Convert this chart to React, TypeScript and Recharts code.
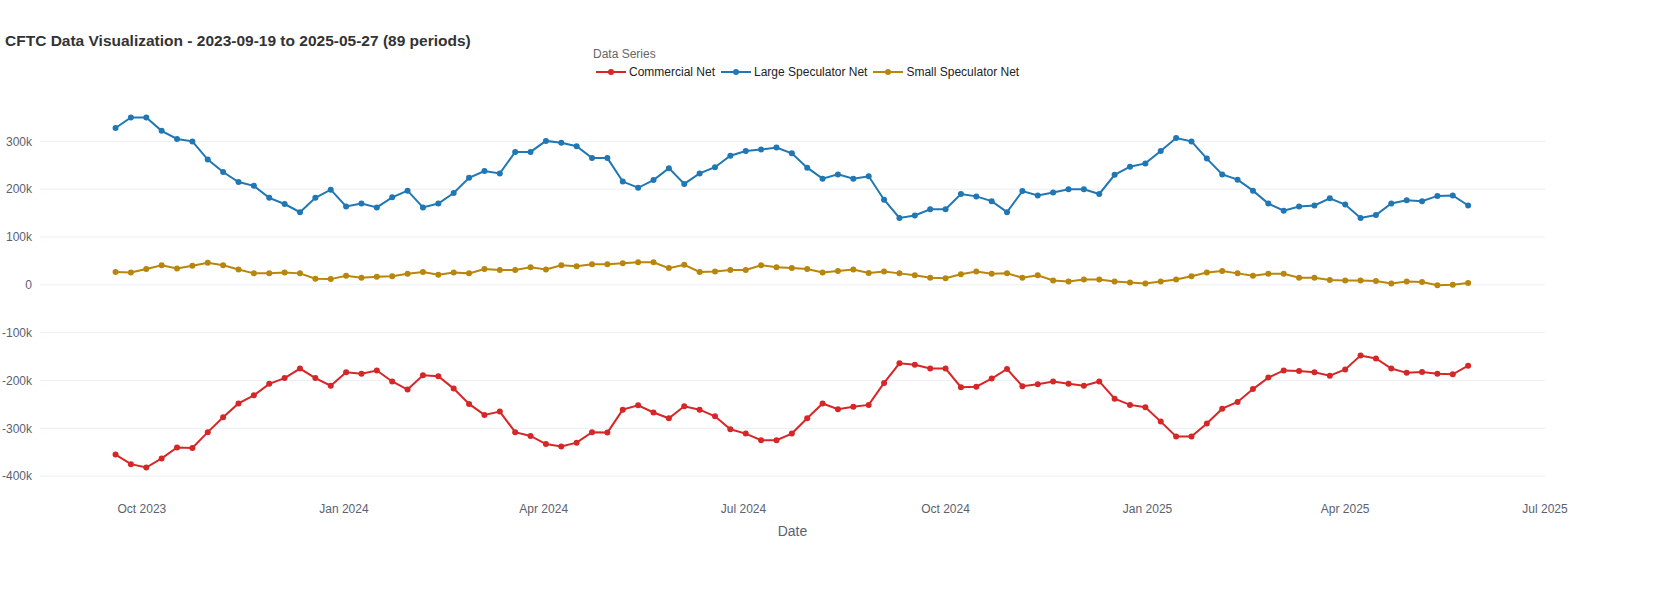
import React from "react";
import { LineChart, Line, XAxis, YAxis, CartesianGrid, Label } from "recharts";

const largeSpec = [328,350,350,322,305,300,262,236,215,207,182,169,152,182,199,164,170,162,183,197,162,170,192,224,238,233,278,278,301,297,290,265,265,216,203,219,244,211,233,246,270,280,283,287,275,245,222,231,222,227,178,140,145,158,158,190,185,175,152,196,187,193,200,200,190,230,247,254,280,307,300,264,231,220,197,170,155,164,166,181,168,140,146,170,177,175,186,187,166];
const commercial = [-355,-375,-382,-363,-340,-341,-308,-277,-248,-231,-207,-195,-175,-195,-211,-183,-186,-179,-202,-219,-189,-191,-217,-249,-272,-265,-308,-316,-333,-338,-330,-308,-309,-261,-252,-267,-279,-254,-261,-275,-302,-311,-325,-325,-311,-279,-248,-260,-255,-251,-205,-164,-167,-175,-175,-214,-213,-196,-176,-212,-208,-202,-207,-211,-202,-238,-251,-256,-286,-317,-317,-290,-259,-245,-218,-194,-179,-180,-183,-190,-177,-148,-154,-175,-184,-182,-186,-187,-169];
const smallSpec = [27,26,33,41,34,40,46,41,32,24,24,26,24,13,12,19,15,17,18,23,27,21,26,24,33,31,31,37,32,41,39,43,43,45,47,47,35,42,27,28,31,31,41,37,35,33,26,29,32,25,28,24,20,15,14,22,28,23,24,15,20,9,7,11,11,7,5,3,7,11,18,26,29,24,19,23,23,15,15,10,9,9,8,3,7,6,-1,0,4];
const startDate = Date.UTC(2023, 8, 19);
const WEEK = 7 * 24 * 3600 * 1000;
const xTickDates = [[2023,9],[2024,0],[2024,3],[2024,6],[2024,9],[2025,0],[2025,3],[2025,6]];
const monthNames = ["Jan","Feb","Mar","Apr","May","Jun","Jul","Aug","Sep","Oct","Nov","Dec"];
const yTicks = [-400000,-300000,-200000,-100000,0,100000,200000,300000];

const data = largeSpec.map((v, i) => ({
  t: startDate + i * WEEK,
  commercial: commercial[i] * 1000,
  large: v * 1000,
  small: smallSpec[i] * 1000,
}));
const xTicks = xTickDates.map(([y, m]) => Date.UTC(y, m, 1));
const xMin = Date.UTC(2023, 9, 1) - 46.4 * 86400000;
const xMax = Date.UTC(2025, 6, 1);

const fmtX = (v: number) => { const d = new Date(v); return `${monthNames[d.getUTCMonth()]} ${d.getUTCFullYear()}`; };
const fmtY = (v: number) => (v === 0 ? "0" : `${v / 1000}k`);

const series = [
  { key: "commercial", name: "Commercial Net", color: "#d62728" },
  { key: "large", name: "Large Speculator Net", color: "#1f77b4" },
  { key: "small", name: "Small Speculator Net", color: "#b8860b" },
];

export default function App() {
  return (
    <div style={{ position: "absolute", left: 0, top: 0, width: 1658, height: 600, background: "#fff" }}>
      <div style={{ position: "absolute", left: 5, top: 32, fontSize: 15.5, fontWeight: "bold", color: "#333", fontFamily: "'Liberation Sans', Arial, sans-serif" }}>
        CFTC Data Visualization - 2023-09-19 to 2025-05-27 (89 periods)
      </div>
      <div style={{ position: "absolute", left: 593, top: 47, fontSize: 12, color: "#666", fontFamily: "'Liberation Sans', Arial, sans-serif" }}>Data Series</div>
      <div style={{ position: "absolute", left: 596, top: 65, display: "flex", fontSize: 12, color: "#222", fontFamily: "'Liberation Sans', Arial, sans-serif" }}>
        {series.map((s) => (
          <div key={s.key} style={{ display: "flex", alignItems: "center", marginRight: 6 }}>
            <svg width={30} height={12} style={{ marginRight: 3 }}>
              <line x1={0} y1={6} x2={30} y2={6} stroke={s.color} strokeWidth={2} />
              <circle cx={15} cy={6} r={3} fill={s.color} />
            </svg>
            <span>{s.name}</span>
          </div>
        ))}
      </div>
      <LineChart width={1658} height={600} data={data} margin={{ top: 95, right: 113, bottom: 70, left: 0 }}>
        <CartesianGrid vertical={false} stroke="#eceff3" horizontalValues={yTicks} />
        <XAxis dataKey="t" type="number" scale="time" domain={[xMin, xMax]} ticks={xTicks} tickFormatter={fmtX}
          axisLine={false} tickLine={false} tick={{ fill: "#5a6270", fontSize: 12, fontFamily: "'Liberation Sans', Arial" }} height={40} tickMargin={8} allowDataOverflow>
          <Label value="Date" position="insideBottom" offset={-6} style={{ fill: "#5a6270", fontSize: 14, fontFamily: "'Liberation Sans', Arial" }} />
        </XAxis>
        <YAxis type="number" domain={[-429000, 397000]} ticks={yTicks} tickFormatter={fmtY} width={40}
          axisLine={false} tickLine={false} tick={{ fill: "#5a6270", fontSize: 12, fontFamily: "'Liberation Sans', Arial" }} />
        {series.map((s) => (
          <Line key={s.key} dataKey={s.key} name={s.name} stroke={s.color} strokeWidth={2}
            dot={{ r: 3, fill: s.color, stroke: s.color, strokeWidth: 0 }} isAnimationActive={false} />
        ))}
      </LineChart>
    </div>
  );
}
